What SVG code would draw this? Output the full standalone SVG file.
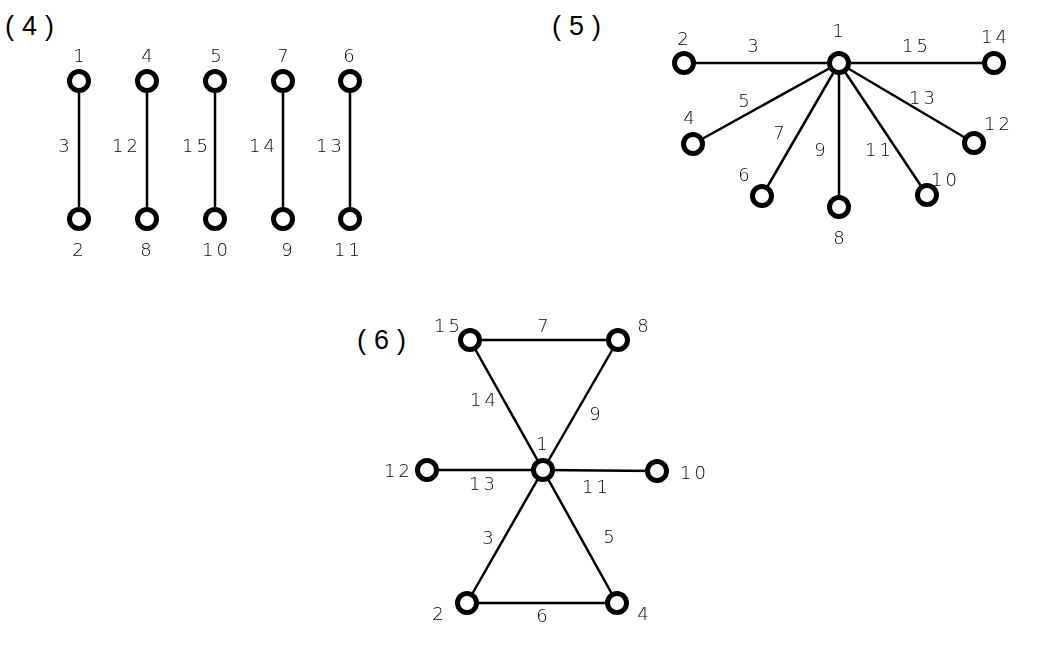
<svg xmlns="http://www.w3.org/2000/svg" width="1059" height="646" viewBox="0 0 1059 646">
<defs>
<filter id="gray" x="-20%" y="-20%" width="140%" height="140%"><feOffset dx="0" dy="0"/></filter>
</defs>
<style>
.bg{fill:#fff}
.edge{stroke:#000;stroke-width:2.5;fill:none}
.node{fill:#fff;stroke:#000;stroke-width:5}
.lbl{font-family:"DejaVu Sans","Liberation Sans",sans-serif;font-weight:200;font-size:18px;fill:#000;text-anchor:middle;letter-spacing:3px;filter:url(#gray)}
.title{font-family:"Liberation Sans",Arial,sans-serif;font-size:27px;fill:#000;letter-spacing:8px}
</style>
<rect class="bg" x="0" y="0" width="1059" height="646"/>
<text class="title" x="5" y="35">(4)</text>
<text class="title" x="552" y="35">(5)</text>
<text class="title" x="357" y="349">(6)</text>
<g id="connectors">
<line class="edge" x1="79" y1="81" x2="79" y2="219"/>
<line class="edge" x1="147" y1="81" x2="147" y2="219"/>
<line class="edge" x1="215" y1="81" x2="215" y2="219"/>
<line class="edge" x1="283" y1="81" x2="283" y2="219"/>
<line class="edge" x1="350" y1="81" x2="350" y2="219"/>
<line class="edge" x1="839" y1="63" x2="684" y2="63"/>
<line class="edge" x1="839" y1="63" x2="994" y2="63"/>
<line class="edge" x1="839" y1="63" x2="693" y2="144"/>
<line class="edge" x1="839" y1="63" x2="974" y2="143"/>
<line class="edge" x1="839" y1="63" x2="762" y2="196"/>
<line class="edge" x1="839" y1="63" x2="839" y2="207"/>
<line class="edge" x1="839" y1="63" x2="927" y2="195"/>
<line class="edge" x1="470" y1="340" x2="618" y2="340"/>
<line class="edge" x1="470" y1="340" x2="543" y2="470"/>
<line class="edge" x1="618" y1="340" x2="543" y2="470"/>
<line class="edge" x1="427" y1="470" x2="543" y2="470"/>
<line class="edge" x1="543" y1="470" x2="657" y2="471"/>
<line class="edge" x1="543" y1="470" x2="467" y2="603"/>
<line class="edge" x1="543" y1="470" x2="617" y2="603"/>
<line class="edge" x1="467" y1="603" x2="617" y2="603"/>
<g id="edge-labels">
<text class="lbl" x="65.5" y="152">3</text>
<text class="lbl" x="126.5" y="152">12</text>
<text class="lbl" x="196.5" y="152">15</text>
<text class="lbl" x="263.5" y="152">14</text>
<text class="lbl" x="330.5" y="152">13</text>
<text class="lbl" x="754.5" y="52">3</text>
<text class="lbl" x="916.5" y="52">15</text>
<text class="lbl" x="745.5" y="107">5</text>
<text class="lbl" x="923.5" y="104">13</text>
<text class="lbl" x="780.5" y="139">7</text>
<text class="lbl" x="821.5" y="156">9</text>
<text class="lbl" x="879.5" y="156">11</text>
<text class="lbl" x="544.5" y="332">7</text>
<text class="lbl" x="484.5" y="406">14</text>
<text class="lbl" x="596.5" y="420">9</text>
<text class="lbl" x="483.5" y="490">13</text>
<text class="lbl" x="596.5" y="493">11</text>
<text class="lbl" x="489.5" y="544">3</text>
<text class="lbl" x="610.5" y="543">5</text>
<text class="lbl" x="543.5" y="622">6</text>
</g>
</g>
<g id="p4-n1"><circle class="node" cx="79" cy="81" r="9.5"/><text class="lbl" x="80.5" y="62">1</text></g>
<g id="p4-n2"><circle class="node" cx="79" cy="219" r="9.5"/><text class="lbl" x="79.5" y="256">2</text></g>
<g id="p4-n4"><circle class="node" cx="147" cy="81" r="9.5"/><text class="lbl" x="148.5" y="62">4</text></g>
<g id="p4-n8"><circle class="node" cx="147" cy="219" r="9.5"/><text class="lbl" x="147.5" y="256">8</text></g>
<g id="p4-n5"><circle class="node" cx="215" cy="81" r="9.5"/><text class="lbl" x="217.5" y="62">5</text></g>
<g id="p4-n10"><circle class="node" cx="215" cy="219" r="9.5"/><text class="lbl" x="216.5" y="256">10</text></g>
<g id="p4-n7"><circle class="node" cx="283" cy="81" r="9.5"/><text class="lbl" x="284.5" y="62">7</text></g>
<g id="p4-n9"><circle class="node" cx="283" cy="219" r="9.5"/><text class="lbl" x="288.5" y="256">9</text></g>
<g id="p4-n6"><circle class="node" cx="350" cy="81" r="9.5"/><text class="lbl" x="350.5" y="62">6</text></g>
<g id="p4-n11"><circle class="node" cx="350" cy="219" r="9.5"/><text class="lbl" x="348.5" y="256">11</text></g>
<g id="p5-n1"><circle class="node" cx="839" cy="63" r="9.5"/><text class="lbl" x="839.5" y="37">1</text></g>
<g id="p5-n2"><circle class="node" cx="684" cy="63" r="9.5"/><text class="lbl" x="684.5" y="45">2</text></g>
<g id="p5-n14"><circle class="node" cx="994" cy="63" r="9.5"/><text class="lbl" x="995.5" y="43">14</text></g>
<g id="p5-n4"><circle class="node" cx="693" cy="144" r="9.5"/><text class="lbl" x="690.5" y="124">4</text></g>
<g id="p5-n12"><circle class="node" cx="974" cy="143" r="9.5"/><text class="lbl" x="998.5" y="130">12</text></g>
<g id="p5-n6"><circle class="node" cx="762" cy="196" r="9.5"/><text class="lbl" x="745.5" y="181">6</text></g>
<g id="p5-n8"><circle class="node" cx="839" cy="207" r="9.5"/><text class="lbl" x="840.5" y="244">8</text></g>
<g id="p5-n10"><circle class="node" cx="927" cy="195" r="9.5"/><text class="lbl" x="945.5" y="186">10</text></g>
<g id="p6-n1"><circle class="node" cx="543" cy="470" r="9.5"/><text class="lbl" x="543.5" y="450">1</text></g>
<g id="p6-n15"><circle class="node" cx="470" cy="340" r="9.5"/><text class="lbl" x="448.5" y="332">15</text></g>
<g id="p6-n8"><circle class="node" cx="618" cy="340" r="9.5"/><text class="lbl" x="644.5" y="332">8</text></g>
<g id="p6-n12"><circle class="node" cx="427" cy="470" r="9.5"/><text class="lbl" x="398.5" y="477">12</text></g>
<g id="p6-n10"><circle class="node" cx="657" cy="471" r="9.5"/><text class="lbl" x="694.5" y="479">10</text></g>
<g id="p6-n2"><circle class="node" cx="467" cy="603" r="9.5"/><text class="lbl" x="439.5" y="620">2</text></g>
<g id="p6-n4"><circle class="node" cx="617" cy="603" r="9.5"/><text class="lbl" x="644.5" y="620">4</text></g>
</svg>
